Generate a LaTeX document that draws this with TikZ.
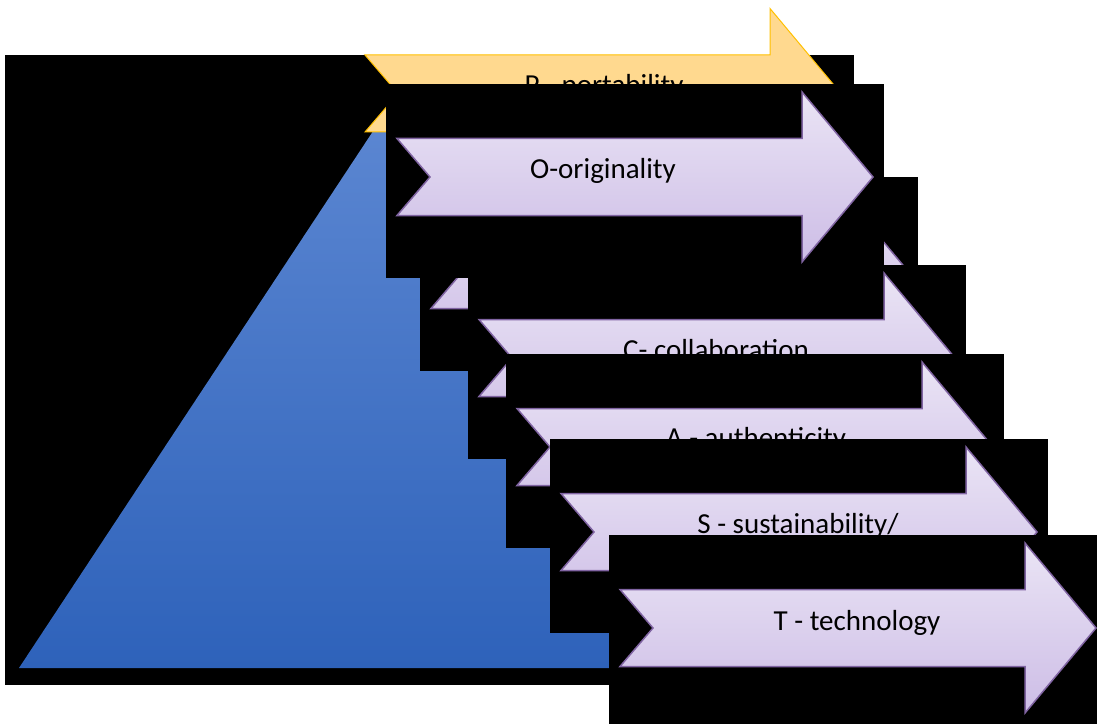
\documentclass[tikz,border=0pt]{standalone}
\usepackage{fontspec}
\setmainfont{Carlito}

\definecolor{lilactop}{RGB}{234,228,245}
\definecolor{lilacbottom}{RGB}{205,189,230}
\definecolor{lilacline}{RGB}{128,100,162}
\definecolor{sandfill}{RGB}{255,217,143}
\definecolor{sandline}{RGB}{255,192,0}
\definecolor{pyramidtop}{RGB}{92,135,210}
\definecolor{pyramidbottom}{RGB}{46,98,186}

% notched arrow outline, origin at the tail, centred vertically
\newcommand{\notchpath}{(0,-38.5) -- (405,-38.5) -- (405,-85) -- (476,0) -- (405,85) -- (405,38.5) -- (0,38.5) -- (33,0) -- cycle}

% black panel with its arrow on top, #1/#2 = top left corner of the panel
\newcommand{\panelarrow}[2]{%
  \fill[panel] (#1,#2) rectangle ++(498,194);
  \path[lilac, shift={(#1+11,#2+93)}] \notchpath;
}

\begin{document}
\begin{tikzpicture}[x=1bp, y=-1bp,
                    panel/.style={fill=black},
                    lilac/.style={draw=lilacline, line width=1.5bp, top color=lilactop, bottom color=lilacbottom},
                    sand/.style={draw=sandline, line width=1bp, fill=sandfill},
                    pyramid/.style={top color=pyramidtop, bottom color=pyramidbottom},
                    word/.style={font=\fontsize{29bp}{35bp}\selectfont, anchor=base, inner sep=0pt, text=black}]

    \clip (0,0) rectangle (1097,724); % page size in px

    % pyramid on its panel
    \fill[panel] (5,55) rectangle (854,685);
    \path[pyramid] (19,668) -- (387,110) -- (755,668) -- cycle;

    % P
    \path[sand, shift={(365,93.5)}] \notchpath;
    \node[word] (portability) at (604,95) {P - portability};

    % D goes under O and C, only its corners show
    \panelarrow{420}{177}

    % O
    \panelarrow{386}{84}
    \node[word] (originality) at (603,179) {O-originality};

    % C
    \panelarrow{468}{265}
    \node[word] (collaboration) at (716,359) {C- collaboration};

    % A
    \panelarrow{506}{354}
    \node[word] (authenticity) at (756,447) {A - authenticity};

    % S
    \panelarrow{550}{439}
    \node[word] (sustainability) at (798,533) {S - sustainability/};

    % T
    \panelarrow{609}{535}
    \node[word] (technology) at (857,630) {T - technology};

\end{tikzpicture}
\end{document}
